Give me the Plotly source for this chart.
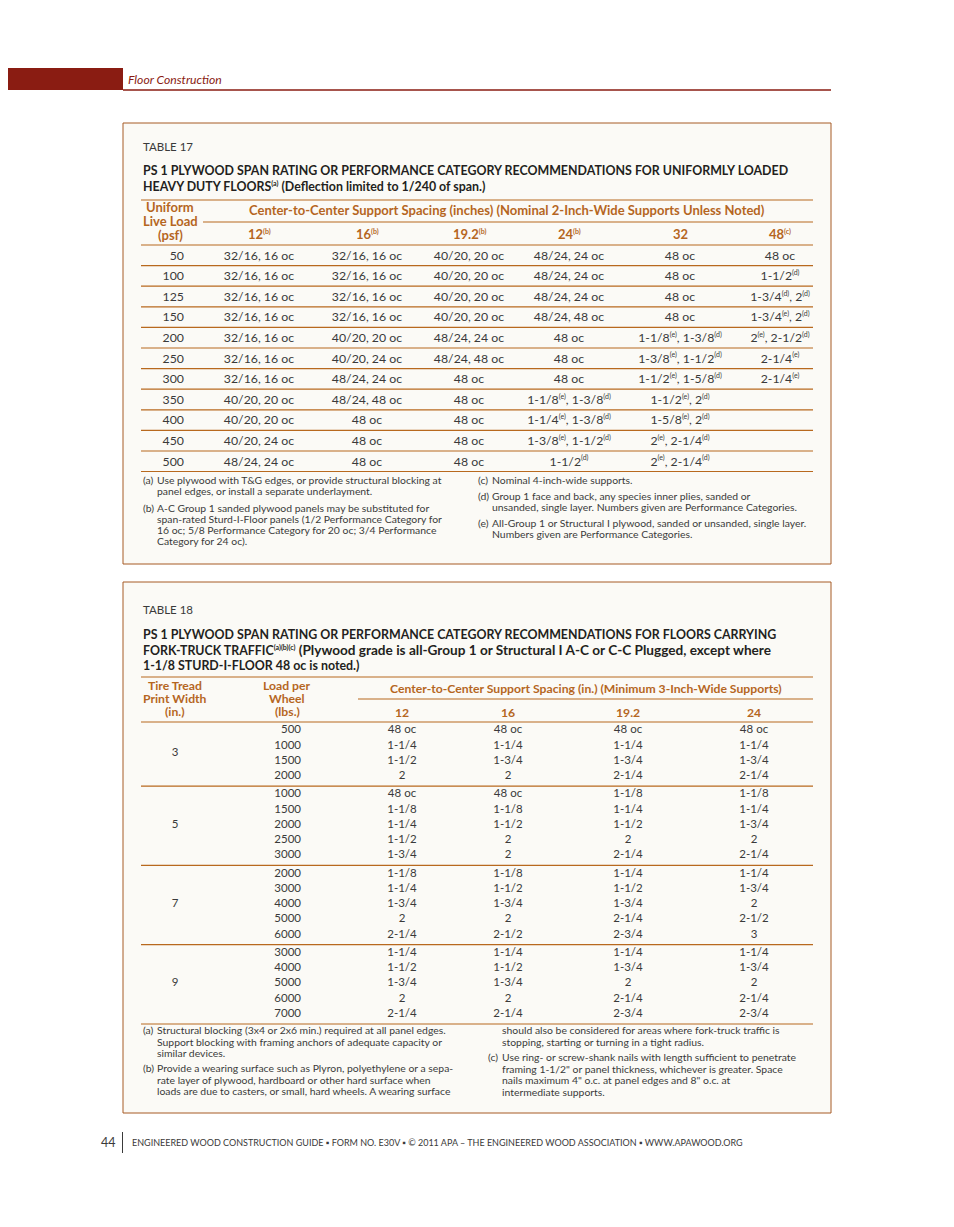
import re
import plotly.graph_objects as go

# ---- data: table 17 ----
t17_loads = [50, 100, 125, 150, 200, 250, 300, 350, 400, 450, 500]
t17_headers = ["12(b)", "16(b)", "19.2(b)", "24(b)", "32", "48(c)"]
t17_12 = ["32/16, 16 oc", "32/16, 16 oc", "32/16, 16 oc", "32/16, 16 oc", "32/16, 16 oc", "32/16, 16 oc",
          "32/16, 16 oc", "40/20, 20 oc", "40/20, 20 oc", "40/20, 24 oc", "48/24, 24 oc"]
t17_16 = ["32/16, 16 oc", "32/16, 16 oc", "32/16, 16 oc", "32/16, 16 oc", "40/20, 20 oc", "40/20, 24 oc",
          "48/24, 24 oc", "48/24, 48 oc", "48 oc", "48 oc", "48 oc"]
t17_192 = ["40/20, 20 oc", "40/20, 20 oc", "40/20, 20 oc", "40/20, 20 oc", "48/24, 24 oc", "48/24, 48 oc",
           "48 oc", "48 oc", "48 oc", "48 oc", "48 oc"]
t17_24 = ["48/24, 24 oc", "48/24, 24 oc", "48/24, 24 oc", "48/24, 48 oc", "48 oc", "48 oc", "48 oc",
          "1-1/8(e), 1-3/8(d)", "1-1/4(e), 1-3/8(d)", "1-3/8(e), 1-1/2(d)", "1-1/2(d)"]
t17_32 = ["48 oc", "48 oc", "48 oc", "48 oc",
          "1-1/8(e), 1-3/8(d)", "1-3/8(e), 1-1/2(d)", "1-1/2(e), 1-5/8(d)", "1-1/2(e), 2(d)",
          "1-5/8(e), 2(d)", "2(e), 2-1/4(d)", "2(e), 2-1/4(d)"]
t17_48 = ["48 oc", "1-1/2(d)", "1-3/4(d), 2(d)", "1-3/4(e), 2(d)", "2(e), 2-1/2(d)",
          "2-1/4(e)", "2-1/4(e)", "", "", "", ""]

# ---- data: table 18 ----
t18_widths = [3, 5, 7, 9]
t18_headers = ["12", "16", "19.2", "24"]
t18_loads = [[500, 1000, 1500, 2000],
             [1000, 1500, 2000, 2500, 3000],
             [2000, 3000, 4000, 5000, 6000],
             [3000, 4000, 5000, 6000, 7000]]
t18_12 = [["48 oc", "1-1/4", "1-1/2", "2"],
          ["48 oc", "1-1/8", "1-1/4", "1-1/2", "1-3/4"],
          ["1-1/8", "1-1/4", "1-3/4", "2", "2-1/4"],
          ["1-1/4", "1-1/2", "1-3/4", "2", "2-1/4"]]
t18_16 = [["48 oc", "1-1/4", "1-3/4", "2"],
          ["48 oc", "1-1/8", "1-1/2", "2", "2"],
          ["1-1/8", "1-1/2", "1-3/4", "2", "2-1/2"],
          ["1-1/4", "1-1/2", "1-3/4", "2", "2-1/4"]]
t18_192 = [["48 oc", "1-1/4", "1-3/4", "2-1/4"],
           ["1-1/8", "1-1/4", "1-1/2", "2", "2-1/4"],
           ["1-1/4", "1-1/2", "1-3/4", "2-1/4", "2-3/4"],
           ["1-1/4", "1-3/4", "2", "2-1/4", "2-3/4"]]
t18_24 = [["48 oc", "1-1/4", "1-3/4", "2-1/4"],
          ["1-1/8", "1-1/4", "1-3/4", "2", "2-1/4"],
          ["1-1/4", "1-3/4", "2", "2-1/2", "3"],
          ["1-1/4", "1-3/4", "2", "2-1/4", "2-3/4"]]

FONT = "Lato"
TXT = "#3a3a3a"
DARK = "#231f20"
ORANGE = "#b5661f"
RULE = "#b8691e"
RED = "#8a1c12"
BOX_LINE = "#a65a24"
BOX_FILL = "#fbfaf6"

HEAD = 13      # orange column headers
HEAD18 = 12.2
TITLE = 12.4   # bold table titles
CELL17 = 12.3
CELL18 = 11.5
FN = 10.4      # footnotes


def sup(s, px=7):
    # footnote markers like "(d)" become small superscripts
    return re.sub(r"(\((?:[a-e])\))", r'<sup><span style="font-size:%spx">\1</span></sup>' % px, s)


fig = go.Figure()
shapes = []
annos = []


def text(x, y, s, size=12, color=TXT, anchor="left", bold=False, italic=False):
    if bold:
        s = "<b>" + s + "</b>"
    if italic:
        s = "<i>" + s + "</i>"
    annos.append(dict(x=x, y=y, text=s, showarrow=False, xanchor=anchor, yanchor="middle",
                      font=dict(family=FONT, size=size, color=color), xref="x", yref="y"))


def rule(x0, x1, y, color=RULE, width=1.2):
    shapes.append(dict(type="line", x0=x0, x1=x1, y0=y, y1=y, xref="x", yref="y",
                       line=dict(color=color, width=width)))


def column(xs, ys, labels, pos="middle center", size=12, color=TXT):
    fig.add_trace(go.Scatter(x=xs, y=ys, mode="text", text=[sup(s) for s in labels], textposition=pos,
                             textfont=dict(family=FONT, size=size, color=color),
                             hoverinfo="skip", showlegend=False))


# page header
shapes.append(dict(type="rect", x0=0, x1=123, y0=68, y1=90, fillcolor=RED, line=dict(width=0), layer="below"))
rule(123, 831, 90, color=RED, width=1.3)
text(126, 79, "Floor Construction", size=12.2, color=RED, italic=True)

# ---------- TABLE 17 ----------
shapes.append(dict(type="rect", x0=123, x1=831, y0=123, y1=564, fillcolor=BOX_FILL,
                   line=dict(color=BOX_LINE, width=1), layer="below"))
text(141, 146, "TABLE 17", size=11.5, color=TXT)
text(141, 170, "PS 1 PLYWOOD SPAN RATING OR PERFORMANCE CATEGORY RECOMMENDATIONS FOR UNIFORMLY LOADED",
     size=TITLE, color=DARK, bold=True)
text(141, 186, sup("HEAVY DUTY FLOORS(a)") + " (Deflection limited to 1/240 of span.)",
     size=TITLE, color=DARK, bold=True)

rule(141, 813, 200)
text(170, 207, "Uniform", size=HEAD, color=ORANGE, anchor="center", bold=True)
text(170, 221, "Live Load", size=HEAD, color=ORANGE, anchor="center", bold=True)
text(170, 235, "(psf)", size=HEAD, color=ORANGE, anchor="center", bold=True)
text(507, 210, "Center-to-Center Support Spacing (inches) (Nominal 2-Inch-Wide Supports Unless Noted)",
     size=HEAD, color=ORANGE, anchor="center", bold=True)
rule(203, 813, 222)

t17_x = [259, 367, 469, 569, 680, 780]
for cx, h in zip(t17_x, t17_headers):
    text(cx, 234, sup(h), size=HEAD, color=ORANGE, anchor="center", bold=True)
rule(141, 813, 245)

row_h = 20.6
t17_y = [256.5 + i * row_h for i in range(len(t17_loads))]
for i in range(1, len(t17_loads)):
    rule(141, 813, 245 + i * row_h)
rule(141, 813, 471.5)

column([184] * len(t17_loads), t17_y, [str(v) for v in t17_loads], pos="middle left", size=CELL17)
for cx, vals in zip(t17_x, [t17_12, t17_16, t17_192, t17_24, t17_32, t17_48]):
    column([cx] * len(vals), t17_y, vals, size=CELL17)

# table 17 notes
notes17_left = [("(a)", ["Use plywood with T&G edges, or provide structural blocking at",
                         "panel edges, or install a separate underlayment."], 480),
                ("(b)", ["A-C Group 1 sanded plywood panels may be substituted for",
                         "span-rated Sturd-I-Floor panels (1/2 Performance Category for",
                         "16 oc; 5/8 Performance Category for 20 oc; 3/4 Performance",
                         "Category for 24 oc)."], 508)]
notes17_right = [("(c)", ["Nominal 4-inch-wide supports."], 480),
                 ("(d)", ["Group 1 face and back, any species inner plies, sanded or",
                          "unsanded, single layer. Numbers given are Performance Categories."], 496),
                 ("(e)", ["All-Group 1 or Structural I plywood, sanded or unsanded, single layer.",
                          "Numbers given are Performance Categories."], 523)]
for lx, tx, notes in [(141, 155, notes17_left), (476, 490, notes17_right)]:
    for lab, lines, y0 in notes:
        text(lx, y0, lab, size=FN)
        for k, ln in enumerate(lines):
            text(tx, y0 + k * 11, ln, size=FN)

# ---------- TABLE 18 ----------
shapes.append(dict(type="rect", x0=123, x1=831, y0=582, y1=1113, fillcolor=BOX_FILL,
                   line=dict(color=BOX_LINE, width=1), layer="below"))
text(141, 609, "TABLE 18", size=11.5, color=TXT)
text(141, 634, "PS 1 PLYWOOD SPAN RATING OR PERFORMANCE CATEGORY RECOMMENDATIONS FOR FLOORS CARRYING",
     size=TITLE, color=DARK, bold=True)
text(141, 650, sup("FORK-TRUCK TRAFFIC(a)(b)(c)") +
     "<span style=\"font-size:13.6px\"> (Plywood grade is all-Group 1 or Structural I A-C or C-C Plugged, except where</span>",
     size=TITLE, color=DARK, bold=True)
text(141, 665, "1-1/8 STURD-I-FLOOR 48 oc is noted.)", size=TITLE, color=DARK, bold=True)

rule(141, 813, 677)
for k, s in enumerate(["Tire Tread", "Print Width", "(in.)"]):
    text(175, 685 + k * 13, s, size=HEAD18, color=ORANGE, anchor="center", bold=True)
for k, s in enumerate(["Load per", "Wheel", "(lbs.)"]):
    text(287, 685 + k * 13, s, size=HEAD18, color=ORANGE, anchor="center", bold=True)
text(586, 688, "Center-to-Center Support Spacing (in.) (Minimum 3-Inch-Wide Supports)",
     size=HEAD18, color=ORANGE, anchor="center", bold=True)
rule(358, 813, 699)
t18_x = [402, 508, 628, 754]
for cx, h in zip(t18_x, t18_headers):
    text(cx, 712, h, size=HEAD18, color=ORANGE, anchor="center", bold=True)
rule(141, 813, 722)

r18 = 15.2
top = 722
ys_all, loads_all = [], []
cols_all = [[], [], [], []]
grp_y = []
for g, loads in enumerate(t18_loads):
    ys = [top + 8.5 + i * r18 for i in range(len(loads))]
    ys_all += ys
    loads_all += [str(v) for v in loads]
    for c, src in enumerate([t18_12, t18_16, t18_192, t18_24]):
        cols_all[c] += src[g]
    grp_y.append((ys[0] + ys[-1]) / 2)
    top = ys[-1] + 10
    rule(141, 813, top)

column([175] * len(t18_widths), grp_y, [str(w) for w in t18_widths], size=CELL18)
column([301] * len(loads_all), ys_all, loads_all, pos="middle left", size=CELL18)
for cx, vals in zip(t18_x, cols_all):
    column([cx] * len(vals), ys_all, vals, size=CELL18)

notes18_left = [("(a)", ["Structural blocking (3x4 or 2x6 min.) required at all panel edges.",
                         "Support blocking with framing anchors of adequate capacity or",
                         "similar devices."], 1030),
                ("(b)", ["Provide a wearing surface such as Plyron, polyethylene or a sepa-",
                         "rate layer of plywood, hardboard or other hard surface when",
                         "loads are due to casters, or small, hard wheels. A wearing surface"], 1068)]
notes18_right = [("", ["should also be considered for areas where fork-truck traffic is",
                       "stopping, starting or turning in a tight radius."], 1030),
                 ("(c)", ["Use ring- or screw-shank nails with length sufficient to penetrate",
                          "framing 1-1/2\" or panel thickness, whichever is greater. Space",
                          "nails maximum 4\" o.c. at panel edges and 8\" o.c. at",
                          "intermediate supports."], 1057)]
for lx, tx, notes in [(141, 155, notes18_left), (485.5, 499.5, notes18_right)]:
    for lab, lines, y0 in notes:
        if lab:
            text(lx, y0, lab, size=FN)
        for k, ln in enumerate(lines):
            text(tx, y0 + k * 11.5, ln, size=FN)

# page footer
text(118, 1142, "44", size=12.5, color=TXT, anchor="right")
shapes.append(dict(type="line", x0=122.5, x1=122.5, y0=1132, y1=1153, xref="x", yref="y",
                   line=dict(color=TXT, width=1)))
text(130, 1142, "ENGINEERED WOOD CONSTRUCTION GUIDE ▪ FORM NO. E30V ▪ © 2011 APA – THE ENGINEERED WOOD ASSOCIATION ▪ WWW.APAWOOD.ORG",
     size=9.0, color=TXT)

# the page body has an 8px margin, so the axes start at 8 to keep page coordinates
fig.update_layout(
    width=954, height=1227,
    margin=dict(l=0, r=0, t=0, b=0),
    paper_bgcolor="white", plot_bgcolor="white",
    shapes=shapes, annotations=annos,
    xaxis=dict(range=[8, 962], visible=False, fixedrange=True),
    yaxis=dict(range=[1235, 8], visible=False, fixedrange=True),
    showlegend=False,
)

fig.write_html("out.html")
